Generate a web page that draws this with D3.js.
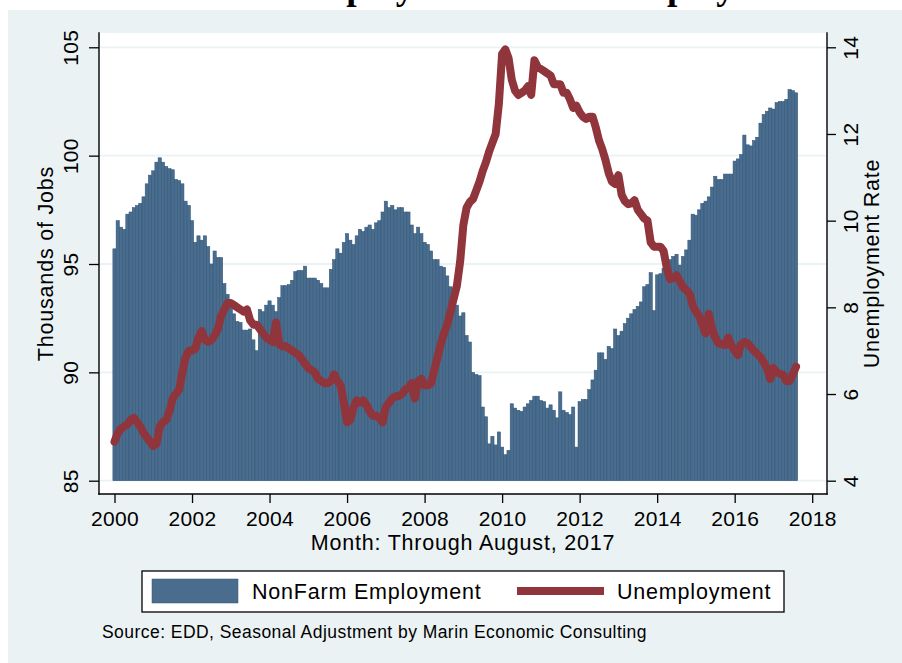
<!DOCTYPE html>
<html>
<head>
<meta charset="utf-8">
<script src="https://cdn.jsdelivr.net/npm/d3@7"></script>
<style>
  body { margin: 0; background: #fff; }
  svg { display: block; }
  text { font-family: "Liberation Sans", Arial, Helvetica, sans-serif; fill: #000; }
</style>
</head>
<body>
<svg id="chart" width="902" height="663"></svg>
<script>
// Monthly series, January 2000 through August 2017
const startYear = 2000;

// NonFarm employment, thousands of jobs
const nonfarmJobs = [
  95.7, 97.0, 96.7, 96.6, 97.3, 97.4, 97.6, 97.7, 97.8, 98.1,
  98.7, 99.1, 99.3, 99.7, 99.9, 99.7, 99.5, 99.4, 99.35, 98.9,
  98.85, 98.7, 97.9, 97.7, 97.0, 96.0, 96.3, 96.1, 96.3, 95.8,
  95.0, 95.6, 95.3, 95.3, 94.1, 93.6, 93.1, 92.7, 92.35, 92.3,
  91.95, 91.95, 92.0, 91.5, 91.0, 92.9, 92.8, 93.1, 93.3, 93.1,
  92.8, 93.45, 94.0, 94.0, 94.05, 94.25, 94.65, 94.7, 94.7, 94.9,
  94.35, 94.35, 94.35, 94.25, 94.1, 93.9, 93.9, 94.75, 95.2, 95.7,
  95.5, 96.0, 96.4, 96.1, 95.9, 96.3, 96.6, 96.5, 96.7, 96.8,
  96.6, 96.9, 97.0, 97.4, 97.9, 97.6, 97.7, 97.5, 97.6, 97.6,
  97.4, 97.4, 96.8, 96.4, 96.7, 96.4, 96.0, 95.9, 95.6, 95.2,
  95.2, 94.9, 94.85, 94.45, 93.95, 93.3, 93.1, 92.6, 92.75, 91.7,
  91.4, 90.0, 89.9, 89.85, 88.4, 87.95, 86.7, 87.05, 86.65, 87.25,
  86.55, 86.2, 86.4, 88.55, 88.35, 88.25, 88.2, 88.4, 88.55, 88.7,
  88.9, 88.9, 88.7, 88.65, 88.35, 88.5, 88.25, 87.9, 89.1, 88.25,
  88.15, 88.05, 88.4, 86.55, 88.65, 88.75, 88.75, 89.2, 89.65, 90.1,
  90.9, 90.9, 90.6, 91.2, 91.1, 92.0, 91.7, 91.9, 92.25, 92.5,
  92.7, 92.9, 93.05, 93.25, 93.95, 94.05, 94.6, 92.85, 94.5, 94.55,
  94.8, 94.9, 95.2, 95.35, 95.45, 94.95, 95.35, 95.65, 96.1, 97.3,
  97.25, 97.5, 97.8, 97.9, 98.1, 98.55, 99.05, 98.9, 98.9, 99.15,
  99.15, 99.15, 99.75, 99.85, 100.05, 100.95, 100.5, 100.45, 100.7, 100.85,
  101.5, 101.9, 102.05, 102.2, 102.15, 102.45, 102.5, 102.5, 102.6, 103.05,
  103.0, 102.9
];

// Unemployment rate, percent
const unemploymentRate = [
  4.9, 5.1, 5.2, 5.25, 5.3, 5.4, 5.45, 5.35, 5.25, 5.1,
  5.0, 4.9, 4.8, 4.85, 5.25, 5.35, 5.4, 5.6, 5.9, 6.0,
  6.1, 6.5, 6.85, 7.0, 7.0, 7.05, 7.3, 7.45, 7.25, 7.2,
  7.25, 7.35, 7.5, 7.8, 7.95, 8.1, 8.1, 8.05, 8.0, 7.95,
  7.9, 7.95, 7.7, 7.6, 7.6, 7.5, 7.4, 7.3, 7.25, 7.2,
  7.65, 7.15, 7.1, 7.1, 7.05, 7.0, 6.95, 6.9, 6.8, 6.7,
  6.6, 6.55, 6.5, 6.35, 6.3, 6.25, 6.25, 6.3, 6.45, 6.3,
  6.2, 5.8, 5.35, 5.4, 5.7, 5.85, 5.8, 5.85, 5.75, 5.6,
  5.5, 5.5, 5.45, 5.35, 5.7, 5.8, 5.9, 5.95, 5.95, 6.0,
  6.1, 6.15, 6.25, 5.9, 6.3, 6.35, 6.2, 6.2, 6.25, 6.55,
  6.85, 7.15, 7.4, 7.6, 7.9, 8.2, 8.5, 9.05, 9.9, 10.3,
  10.43, 10.5, 10.7, 10.9, 11.15, 11.35, 11.6, 11.8, 12.0, 12.7,
  13.85, 13.95, 13.75, 13.25, 13.0, 12.9, 12.95, 13.0, 13.1, 12.9,
  13.7, 13.55, 13.5, 13.45, 13.4, 13.35, 13.15, 13.15, 13.15, 12.95,
  12.95, 12.8, 12.6, 12.65, 12.5, 12.4, 12.35, 12.4, 12.4, 12.15,
  11.85, 11.65, 11.4, 11.1, 10.9, 10.85, 11.05, 10.6, 10.45, 10.38,
  10.4, 10.47, 10.25, 10.15, 10.05, 10.0, 9.5, 9.4, 9.4, 9.4,
  9.3, 8.9, 8.65, 8.68, 8.74, 8.6, 8.47, 8.4, 8.32, 8.05,
  7.9, 7.8, 7.6, 7.4, 7.85, 7.5, 7.3, 7.17, 7.15, 7.13,
  7.3, 7.12, 7.0, 6.9, 7.15, 7.2, 7.17, 7.08, 7.0, 6.92,
  6.85, 6.73, 6.6, 6.35, 6.6, 6.5, 6.47, 6.44, 6.3, 6.3,
  6.45, 6.63
];

const yearTicks = [2000, 2002, 2004, 2006, 2008, 2010, 2012, 2014, 2016, 2018];
const jobTicks = [85, 90, 95, 100, 105];
const rateTicks = [4, 6, 8, 10, 12, 14];
const seriesNames = ["NonFarm Employment", "Unemployment"];
const titleText = "Marin Employment and Unemployment";
const xAxisTitle = "Month: Through August, 2017";
const leftAxisTitle = "Thousands of Jobs";
const rightAxisTitle = "Unemployment Rate";
const sourceNote = "Source: EDD, Seasonal Adjustment by Marin Economic Consulting";

// ---- layout and styling ----
const W = 902, H = 663;
const plot = { left: 99, right: 827, top: 33, bottom: 494 };
const colors = {
  outer: "#eaf2f3",
  grid: "#eaf2f3",
  bar: "#4a6d8e",
  barEdge: "#30567a",
  line: "#90353b"
};
const tickFont = 21;
const labelFont = 21.5;
const labelSpacing = "0.8px";

const svg = d3.select("#chart");

const rows = nonfarmJobs.map((jobs, i) => ({
  t: startYear + i / 12,
  jobs,
  rate: unemploymentRate[i]
}));

// scales
const x = d3.scaleLinear().domain([2000, 2018]).range([114.5, 812.2]);
const yJobs = d3.scaleLinear().domain([85, 105]).range([480.7, 47.3]);
const yRate = d3.scaleLinear().domain([4, 14]).range([480.7, 47.3]);
const barW = x(startYear + 1 / 12) - x(startYear);

// page background
svg.append("rect").attr("x", 0).attr("y", 0).attr("width", W).attr("height", H).attr("fill", "#fff");

// title, set high so that only its descenders reach into the page
svg.append("text")
  .attr("x", 815).attr("y", -1)
  .attr("text-anchor", "end")
  .style("font-family", '"Liberation Serif", "Times New Roman", serif')
  .style("font-weight", "bold")
  .style("font-size", "37px")
  .text(titleText);

// graph region and plot region
svg.append("rect")
  .attr("x", 8).attr("y", 10).attr("width", W - 8).attr("height", H - 10)
  .attr("fill", colors.outer);

svg.append("rect")
  .attr("x", plot.left).attr("y", plot.top)
  .attr("width", plot.right - plot.left).attr("height", plot.bottom - plot.top)
  .attr("fill", "#fff");

// horizontal grid at the job ticks
svg.append("g").selectAll("line").data(jobTicks).join("line")
  .attr("x1", plot.left + 1).attr("x2", plot.right - 1)
  .attr("y1", d => yJobs(d)).attr("y2", d => yJobs(d))
  .attr("stroke", colors.grid).attr("stroke-width", 1.8);

// employment bars
svg.append("g").selectAll("rect").data(rows).join("rect")
  .attr("x", d => x(d.t) - barW / 2)
  .attr("y", d => yJobs(d.jobs))
  .attr("width", barW)
  .attr("height", d => yJobs(85) - yJobs(d.jobs))
  .attr("fill", colors.bar)
  .attr("stroke", colors.barEdge)
  .attr("stroke-width", 0.55);

// unemployment line
const rateLine = d3.line().x(d => x(d.t)).y(d => yRate(d.rate));
svg.append("path").datum(rows)
  .attr("d", rateLine)
  .attr("fill", "none")
  .attr("stroke", colors.line)
  .attr("stroke-width", 8)
  .attr("stroke-linejoin", "round")
  .attr("stroke-linecap", "round");

// axes
function styleAxis(g) {
  g.select(".domain").remove();
  g.selectAll(".tick line").attr("stroke", "#000").attr("stroke-width", 1.3);
  g.selectAll(".tick text").style("font-size", tickFont + "px")
    .style("letter-spacing", "0.3px")
    .style("font-family", '"Liberation Sans", Arial, Helvetica, sans-serif').attr("fill", "#000");
}

const leftAxis = svg.append("g").attr("transform", `translate(${plot.left},0)`)
  .call(d3.axisLeft(yJobs).tickValues(jobTicks).tickSize(10).tickSizeOuter(0))
  .call(styleAxis);
leftAxis.selectAll(".tick text")
  .attr("x", null).attr("dy", null)
  .attr("text-anchor", "middle")
  .attr("transform", "translate(-21,0) rotate(-90)");

const rightAxis = svg.append("g").attr("transform", `translate(${plot.right},0)`)
  .call(d3.axisRight(yRate).tickValues(rateTicks).tickSize(9).tickSizeOuter(0))
  .call(styleAxis);
rightAxis.selectAll(".tick text")
  .attr("x", null).attr("dy", null)
  .attr("text-anchor", "middle")
  .attr("transform", "translate(31,0) rotate(-90)");

const bottomAxis = svg.append("g").attr("transform", `translate(0,${plot.bottom})`)
  .call(d3.axisBottom(x).tickValues(yearTicks).tickFormat(d3.format("d")).tickSize(9).tickSizeOuter(0))
  .call(styleAxis);
bottomAxis.selectAll(".tick text").attr("y", 32).attr("dy", null);

// axis lines
const axisLines = [
  [plot.left, plot.top, plot.left, plot.bottom],
  [plot.right, plot.top, plot.right, plot.bottom],
  [plot.left, plot.bottom, plot.right, plot.bottom]
];
svg.append("g").selectAll("line").data(axisLines).join("line")
  .attr("x1", d => d[0]).attr("y1", d => d[1])
  .attr("x2", d => d[2]).attr("y2", d => d[3])
  .attr("stroke", "#000").attr("stroke-width", 1.4)
  .attr("stroke-linecap", "square");

// axis titles
function label(sel) {
  return sel.style("font-size", labelFont + "px").style("letter-spacing", labelSpacing);
}
svg.append("text")
  .attr("transform", `translate(53,${(plot.top + plot.bottom) / 2}) rotate(-90)`)
  .attr("text-anchor", "middle").call(label)
  .text(leftAxisTitle);
svg.append("text")
  .attr("transform", `translate(879,${(plot.top + plot.bottom) / 2}) rotate(-90)`)
  .attr("text-anchor", "middle").call(label)
  .text(rightAxisTitle);
svg.append("text")
  .attr("x", (plot.left + plot.right) / 2).attr("y", 550)
  .attr("text-anchor", "middle").call(label)
  .text(xAxisTitle);

// legend
const legend = svg.append("g");
legend.append("rect")
  .attr("x", 142).attr("y", 571).attr("width", 642).attr("height", 41)
  .attr("fill", "#fff").attr("stroke", "#000").attr("stroke-width", 1.3);
legend.append("rect")
  .attr("x", 152).attr("y", 579).attr("width", 86).attr("height", 24)
  .attr("fill", colors.bar).attr("stroke", colors.barEdge).attr("stroke-width", 0.5);
legend.append("text").attr("x", 252).attr("y", 599)
  .call(label).text(seriesNames[0]);
legend.append("line")
  .attr("x1", 517).attr("x2", 604).attr("y1", 591).attr("y2", 591)
  .attr("stroke", colors.line).attr("stroke-width", 8);
legend.append("text").attr("x", 617).attr("y", 599)
  .call(label).text(seriesNames[1]);

// source note
svg.append("text").attr("x", 102).attr("y", 638)
  .style("font-size", "17.5px").style("letter-spacing", "0.45px")
  .text(sourceNote);
</script>
</body>
</html>
